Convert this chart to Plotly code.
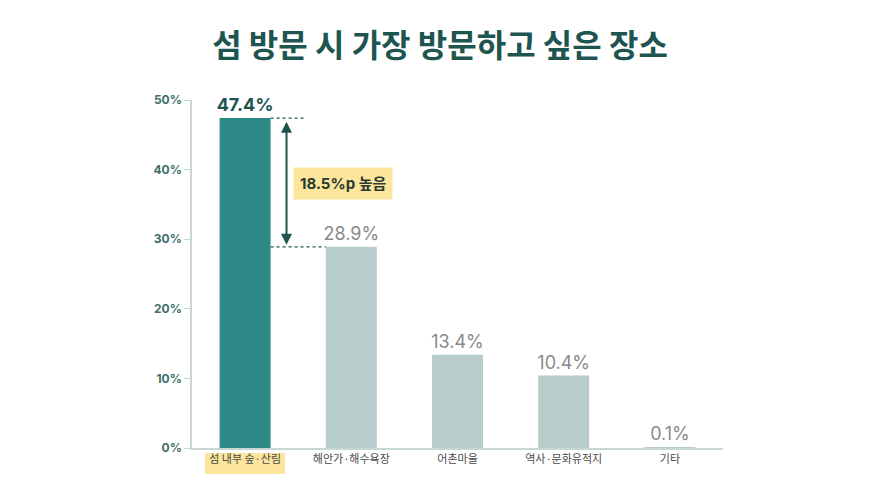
import plotly.graph_objects as go

# 섬 방문 시 가장 방문하고 싶은 장소 (%)
places = ["섬 내부 숲·산림", "해안가·해수욕장", "어촌마을", "역사·문화유적지", "기타"]
shares = [47.4, 28.9, 13.4, 10.4, 0.1]
y_ticks = [0, 10, 20, 30, 40, 50]

FONT = "Noto Sans CJK KR"
NUM_FONT = "Inter, Noto Sans CJK KR"
TEAL = "#2e8a87"
PALE = "#b8cccc"
DARK = "#1f5550"
AXIS = "#c8d6d4"
YELLOW = "#fbe69c"

bar_colors = [TEAL] + [PALE] * (len(shares) - 1)
text_colors = [DARK] + ["#8a8a8a"] * (len(shares) - 1)
labels = [f"<b>{shares[0]}%</b>"] + [f"{v}%" for v in shares[1:]]

fig = go.Figure(go.Bar(
    x=list(range(len(places))), y=shares,
    width=0.48,
    marker=dict(color=bar_colors, line=dict(width=0)),
    text=labels, textposition="outside", constraintext="none",
    textfont=dict(family=NUM_FONT, size=18, color=text_colors),
    cliponaxis=False,
    hoverinfo="skip",
))

gap = shares[0] - shares[1]
edge = 0.24

# dotted guide lines at both bar heights
fig.add_shape(type="line", xref="x", yref="y", x0=edge, x1=0.55, y0=shares[0], y1=shares[0],
              line=dict(color=DARK, width=1.2, dash="dot"))
fig.add_shape(type="line", xref="x", yref="y", x0=edge, x1=1 - edge, y0=shares[1], y1=shares[1],
              line=dict(color=DARK, width=1.2, dash="dot"))

# double-headed arrow showing the gap
fig.add_annotation(x=0.39, y=shares[1] + 0.3, ax=0.39, ay=shares[0] - 0.3,
                   xref="x", yref="y", axref="x", ayref="y",
                   text="", showarrow=True, arrowhead=2, arrowside="end+start",
                   arrowsize=1.1, arrowwidth=2, arrowcolor=DARK)
fig.add_annotation(x=0.455, y=38.0, xref="x", yref="y", xanchor="left",
                   text=f"<b>{gap:.1f}%p 높음</b>", showarrow=False,
                   font=dict(family=NUM_FONT, size=15, color="#2a3a30"),
                   bgcolor=YELLOW, borderpad=6)

# highlight behind the first category label
fig.add_shape(type="rect", xref="paper", yref="paper", layer="below",
              x0=(205 - 192) / 531, x1=(285 - 192) / 531,
              y0=-(474 - 448) / 348, y1=-(453 - 448) / 348,
              fillcolor=YELLOW, line=dict(width=0))

fig.update_layout(
    width=880, height=495,
    margin=dict(l=184, r=165, t=92, b=55),
    paper_bgcolor="white", plot_bgcolor="white",
    showlegend=False,
    title=dict(text="<b>섬 방문 시 가장 방문하고 싶은 장소</b>", x=(440 - 8) / 880, xanchor="center",
               y=1 - (46 - 8) / 495, yanchor="middle",
               font=dict(family=FONT, size=32, color=DARK, weight=900)),
    bargap=0.52,
)
fig.update_xaxes(
    tickmode="array", tickvals=list(range(len(places))), ticktext=places,
    range=[-0.5, len(places) - 0.5],
    showline=True, linecolor=AXIS, linewidth=1.5, ticks="",
    showgrid=False, zeroline=False,
    tickfont=dict(family=FONT, size=11, color="#4a4a4a"),
)
fig.update_yaxes(
    range=[0, 50], tickmode="array", tickvals=y_ticks,
    ticktext=[f"{t}%" for t in y_ticks],
    showline=True, linecolor=AXIS, linewidth=1.5,
    ticks="outside", ticklen=6, tickcolor=AXIS,
    showgrid=False, zeroline=False,
    tickfont=dict(family=NUM_FONT, size=12, color="#3f6e68", weight="bold"),
)

fig.write_html("out.html")
